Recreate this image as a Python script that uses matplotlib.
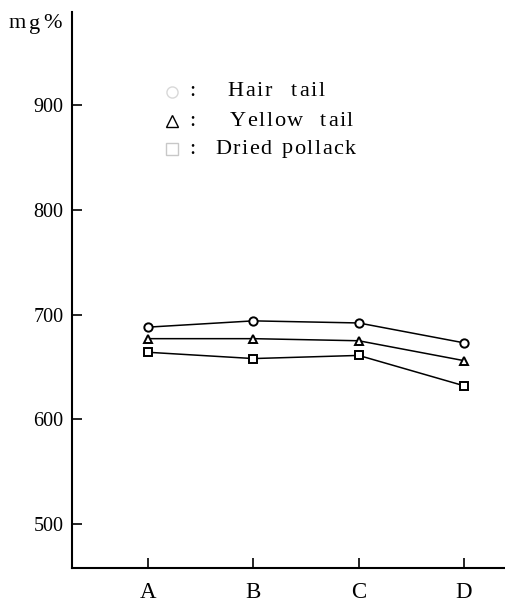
import matplotlib.pyplot as plt
from matplotlib.lines import Line2D

plt.rcParams['font.family'] = ['Liberation Serif', 'DejaVu Serif']

groups = ["A", "B", "C", "D"]
hair_tail = [688, 694, 692, 673]
yellow_tail = [677, 677, 675, 656]
dried_pollack = [664, 658, 661, 632]
yticks = [500, 600, 700, 800, 900]

W, H = 505, 605
fig = plt.figure(figsize=(W / 100, H / 100), dpi=100)
ax = fig.add_axes([0.1426, 0.0612, 0.8574, 0.9190])

x = range(len(groups))
style = dict(color="black", lw=1.1, mfc="white", mec="black", mew=1.4, ms=6)
ax.plot(x, hair_tail, marker="o", **style)
ax.plot(x, yellow_tail, marker="^", **style)
ax.plot(x, dried_pollack, marker="s", **style)

ax.set_xlim(-0.7215, 3.389)
ax.set_ylim(458, 989)
ax.set_xticks(list(x))
ax.set_xticklabels(groups)
ax.set_yticks(yticks)

for s in ("top", "right"):
    ax.spines[s].set_visible(False)
for s in ("left", "bottom"):
    ax.spines[s].set_linewidth(1.5)

ax.tick_params(axis="y", direction="in", length=7, width=1.2, labelsize=14.5, pad=6)
ax.tick_params(axis="x", direction="in", length=7, width=1.2, labelsize=16.5, pad=10)

renderer = fig.canvas.get_renderer()


def spread_text(s, x0, x1, y, size):
    # lay characters out one by one so the word fills x0..x1 (pixels)
    widths = []
    for ch in s:
        t = fig.text(0, 0, ch if ch != " " else "n", fontsize=size)
        w = t.get_window_extent(renderer).width
        t.remove()
        widths.append(w * 0.6 if ch == " " else w)
    gap = (x1 - x0 - sum(widths)) / max(len(s) - 1, 1)
    cx = x0
    for ch, w in zip(s, widths):
        if ch != " ":
            fig.text(cx / W, 1 - y / H, ch, fontsize=size, va="center", ha="left")
        cx += w + gap


spread_text("mg%", 9, 62, 24, 16)

# legend rows: symbol, colour, label, label start/end, row height (pixels)
rows = [("o", "#d8d8d8", "Hair  tail", 227, 325, 92),
        ("^", "black", "Yellow  tail", 230, 353, 121),
        ("s", "#c8c8c8", "Dried pollack", 215, 356, 149)]
for mk, col, label, tx0, tx1, ty in rows:
    fig.add_artist(Line2D([172 / W], [1 - ty / H], marker=mk, ms=8, mfc="none",
                          mec=col, mew=1.0, transform=fig.transFigure))
    fig.text(189 / W, 1 - ty / H, ":", fontsize=16, va="center", ha="left")
    spread_text(label, tx0, tx1, ty, 16)

fig.savefig("out.png", dpi=100)
